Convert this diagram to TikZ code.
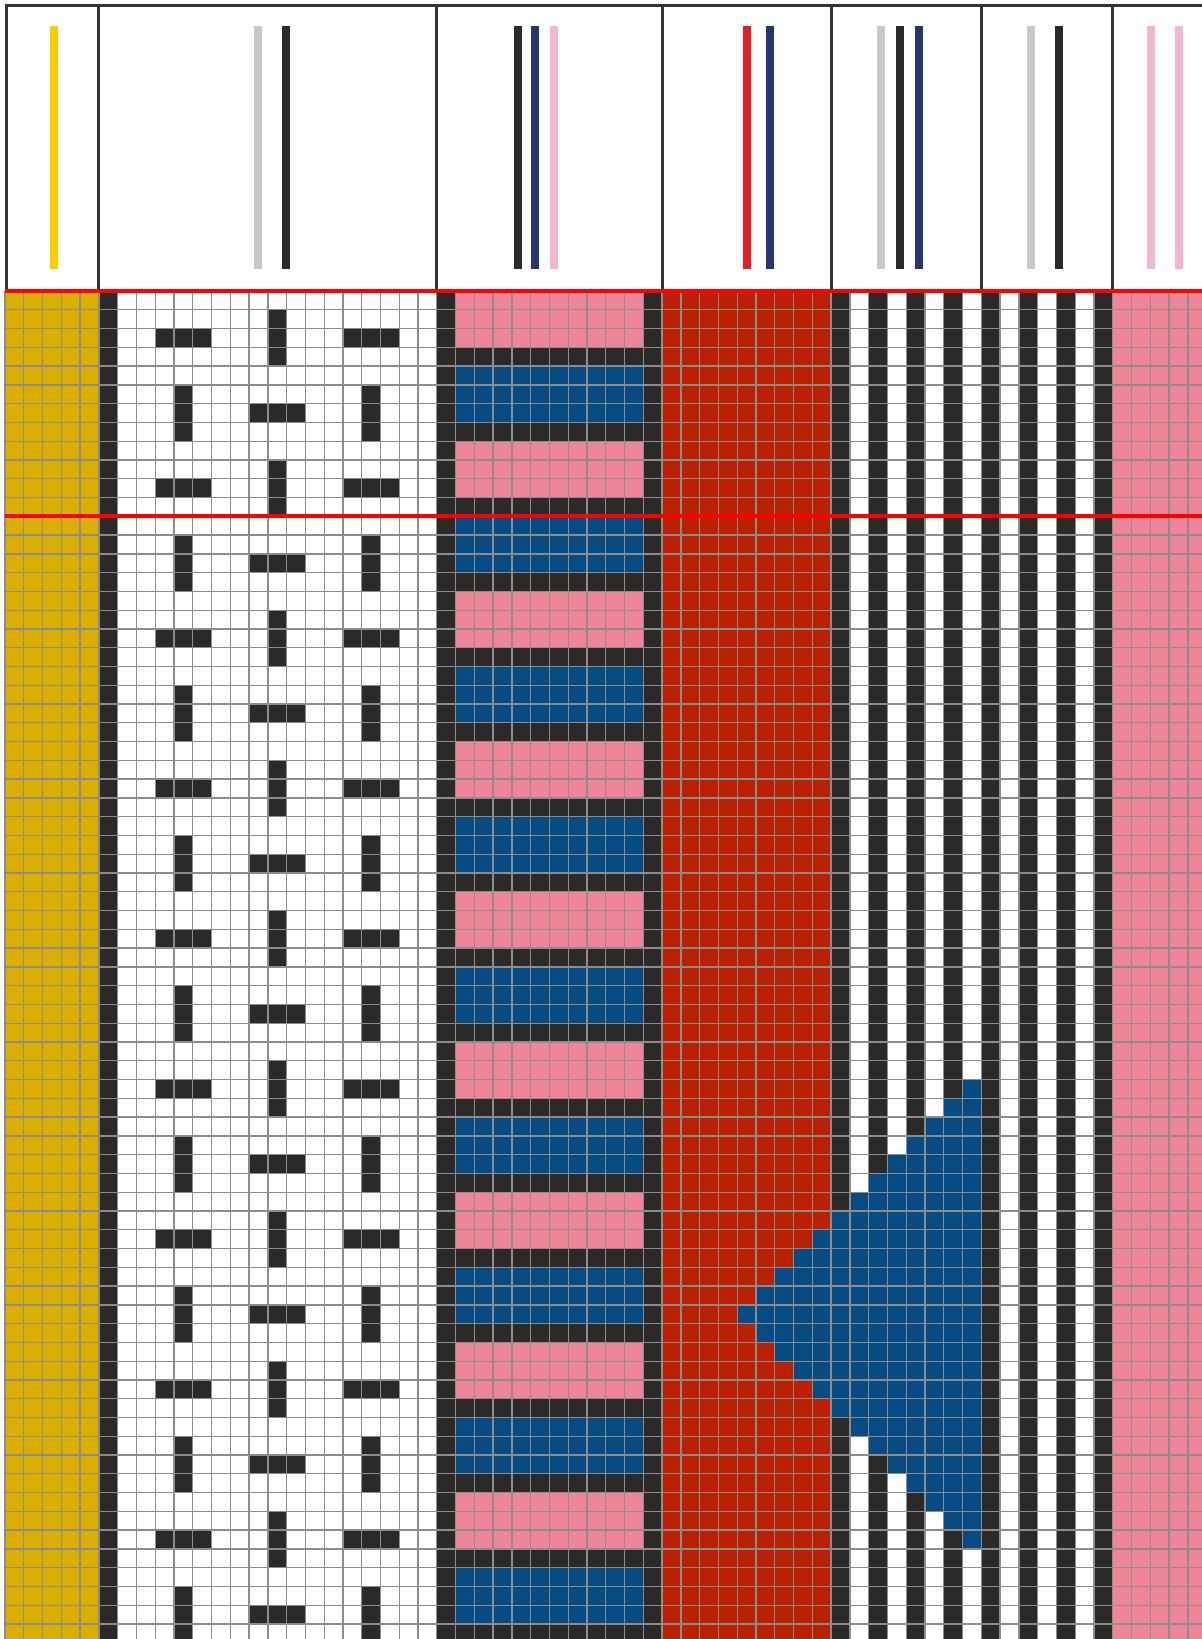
\documentclass[tikz,border=0pt]{standalone}
\usepackage{tikz}
\usepackage{xcolor}
\definecolor{inkdark}{RGB}{43,42,40}
\definecolor{gridgray}{RGB}{140,140,140}
\definecolor{framegray}{RGB}{51,51,51}
\definecolor{cellyellow}{RGB}{219,175,0}
\definecolor{cellpink}{RGB}{239,133,153}
\definecolor{cellblue}{RGB}{6,75,130}
\definecolor{cellred}{RGB}{187,32,0}
\definecolor{threadyellow}{RGB}{255,204,0}
\definecolor{threadgray}{RGB}{200,200,200}
\definecolor{threadnavy}{RGB}{37,54,112}
\definecolor{threadpink}{RGB}{245,181,208}
\definecolor{threadred}{RGB}{227,30,36}
\tikzset{
  gridline/.style={draw=gridgray, line width=0.4pt},
  frameline/.style={draw=framegray, line width=0.9pt},
  redrule/.style={draw=red, line width=1.2pt},
}

\begin{document}
\begin{tikzpicture}[x=2mm,y=-2mm]
\useasboundingbox (-0.2663,-15.499) rectangle (63.755,71.798);
\clip (-0.2663,-15.499) rectangle (63.755,71.798);
\fill[white] (-0.2663,-15.499) rectangle (63.755,71.798);

% warp threads shown above the draft
\foreach \xc/\thr in {2.627/threadyellow, 13.475/threadgray, 14.983/inkdark,
    27.324/inkdark, 28.245/threadnavy, 29.241/threadpink,
    39.537/threadred, 40.746/threadnavy,
    46.674/threadgray, 47.654/inkdark, 48.666/threadnavy,
    54.631/threadgray, 56.123/inkdark,
    61.023/threadpink, 62.530/threadpink}
  \fill[\thr] ({\xc-0.213},-14.114) rectangle ({\xc+0.213},-1.172);
\draw[frameline] (0.06,0) -- (0.06,-15.19) -- (64,-15.19);
\foreach \c in {5,23,35,44,52,59}
  \draw[frameline] (\c,-15.19) -- (\c,0);

% plain columns
\fill[cellyellow] (0,0) rectangle (5,72);
\foreach \c in {5,23,34}
  \fill[inkdark] (\c,0) rectangle ({\c+1},72);
\fill[cellred] (35,0) rectangle (44,72);
\foreach \c in {44,46,...,58}
  \fill[inkdark] (\c,0) rectangle ({\c+1},72);
\fill[cellpink] (59,0) rectangle (64,72);

% 8-row repeat
\foreach \b in {0,...,8} {
  \pgfmathtruncatemacro\r{8*\b}
  \fill[inkdark] (14,{\r+1}) rectangle (15,{\r+4});
  \fill[inkdark] (8,{\r+2}) rectangle (11,{\r+3});
  \fill[inkdark] (18,{\r+2}) rectangle (21,{\r+3});
  \fill[inkdark] (9,{\r+5}) rectangle (10,{\r+8});
  \fill[inkdark] (19,{\r+5}) rectangle (20,{\r+8});
  \fill[inkdark] (13,{\r+6}) rectangle (16,{\r+7});
  \fill[cellpink] (24,\r) rectangle (34,{\r+3});
  \fill[inkdark] (24,{\r+3}) rectangle (34,{\r+4});
  \fill[cellblue] (24,{\r+4}) rectangle (34,{\r+7});
  \fill[inkdark] (24,{\r+7}) rectangle (34,{\r+8});
}

% blue arrow head
\foreach \k in {0,...,12} {
  \fill[cellblue] ({51-\k},{42+\k}) rectangle (52,{43+\k});
  \fill[cellblue] ({39+\k},{54+\k}) rectangle (52,{55+\k});
}

\foreach \c in {0,...,64}
  \draw[gridline] (\c,0) -- (\c,72);
\foreach \r in {1,...,72}
  \draw[gridline] (0,\r) -- (64,\r);
\draw[redrule] (0,0) -- (64,0);
\draw[redrule] (0,12) -- (64,12);
\end{tikzpicture}
\end{document}
